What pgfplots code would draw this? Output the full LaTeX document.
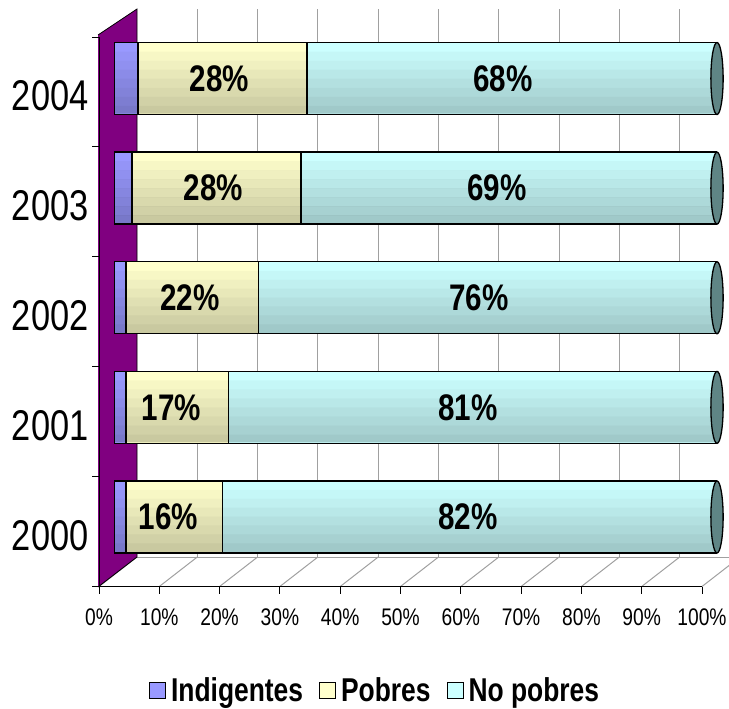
\documentclass[border=0pt]{standalone}
\usepackage{pgfplots}
\usepackage{pgfplotstable}
\pgfplotsset{compat=1.18}
\usepackage{fontspec}
\setmainfont{Liberation Sans}[FakeStretch=0.8]
\definecolor{wall}{HTML}{800080}
\definecolor{indc}{HTML}{9999FF}
\definecolor{pobc}{HTML}{FFFFCC}
\definecolor{noc}{HTML}{CCFFFF}
\definecolor{capc}{HTML}{5F8585}
\definecolor{gridc}{HTML}{A0A0A0}

\pgfplotstableread{
y ind pob nop
0 2 16 82
1 2 17 81
2 2 22 76
3 3 28 69
4 4 28 68
}\data

\begin{document}
\begin{tikzpicture}[x=1pt,y=1pt]
\path[use as bounding box] (0,0) rectangle (729,-709);
% back plane grid
\begin{axis}[at={(137pt,-557pt)}, anchor=south west, scale only axis,
  width=603pt, height=548pt, xmin=0, xmax=100, ymin=0, ymax=1,
  xtick={10,20,...,90}, xticklabels={}, ytick=\empty, xmajorgrids,
  grid style={gridc, line width=1pt}, axis line style={draw=none},
  major tick length=0pt, clip=false]
\addplot[draw=none] coordinates {(0,0)};
\end{axis}
% floor
\draw[gridc, line width=1pt] (137,-557) -- (740,-557);
\foreach \k in {0,...,10} \draw[gridc, line width=1pt] ({99+60.3*\k},-586.5) -- ({137+60.3*\k},-557);
% left wall
\fill[wall] (98,-35) -- (137,-9) -- (137,-557) -- (98,-587) -- cycle;
\draw[black, line width=0.8pt] (98,-35) -- (137,-9) -- (137,-557) -- (98,-587);
% front axis with ticks and labels
\begin{axis}[at={(99pt,-586.5pt)}, anchor=south west, scale only axis,
  width=603pt, height=549.5pt, xmin=0, xmax=100, ymin=-0.5, ymax=4.5,
  axis x line*=bottom, axis y line*=left,
  axis line style={black, line width=1pt},
  xtick={0,10,...,100},
  xticklabels={0\%,10\%,20\%,30\%,40\%,50\%,60\%,70\%,80\%,90\%,100\%},
  xticklabel style={font=\fontsize{24}{24}\selectfont, yshift=-12pt},
  ytick={-0.5,0.5,...,4.5}, yticklabels={},
  extra y ticks={0,1,2,3,4},
  extra y tick labels={2000,2001,2002,2003,2004},
  extra y tick style={tick style={draw=none}, yticklabel style={font=\fontsize{43}{43}\selectfont, yshift=-4pt, xshift=0pt}},
  tick align=outside, major tick length=7pt,
  tick style={black, line width=1pt}]
\addplot[draw=none] coordinates {(0,0)};
\end{axis}
% bars
\begin{axis}[at={(114pt,-571.8pt)}, anchor=south west, scale only axis,
  width=603pt, height=548.1pt, xmin=0, xmax=100, ymin=-0.5, ymax=4.5,
  hide axis, xbar stacked, bar width=72pt,
  legend columns=3,
  legend style={at={(0.433,-0.216)}, anchor=center, draw=none, fill=none,
    font=\bfseries\fontsize{33}{33}\selectfont,
    /tikz/every odd column/.append style={column sep=3pt},
    /tikz/every even column/.append style={column sep=14pt}},
  legend image code/.code={\draw[#1, line width=1pt] (0pt,-8pt) rectangle (16pt,8pt);}]
\addplot[draw=black, line width=1.3pt, fill=indc] table[x=ind, y=y]{\data};
\addplot[draw=black, line width=1.3pt, fill=pobc] table[x=pob, y=y]{\data};
\addplot[draw=black, line width=1.3pt, fill=noc] table[x=nop, y=y]{\data};
\legend{Indigentes, Pobres, No pobres}
\end{axis}
% shading bands across the bars (darker towards the bottom)
\begin{axis}[at={(114pt,-571.8pt)}, anchor=south west, scale only axis,
  width=603pt, height=548.1pt, xmin=0, xmax=100, ymin=-0.5, ymax=4.5,
  hide axis, xbar, bar width=9pt]
\addplot[draw=none, fill=black, fill opacity=0.03, bar shift=22.5pt] coordinates {(100,0) (100,1) (100,2) (100,3) (100,4)};
\addplot[draw=none, fill=black, fill opacity=0.06, bar shift=13.5pt] coordinates {(100,0) (100,1) (100,2) (100,3) (100,4)};
\addplot[draw=none, fill=black, fill opacity=0.09, bar shift=4.5pt] coordinates {(100,0) (100,1) (100,2) (100,3) (100,4)};
\addplot[draw=none, fill=black, fill opacity=0.12, bar shift=-4.5pt] coordinates {(100,0) (100,1) (100,2) (100,3) (100,4)};
\addplot[draw=none, fill=black, fill opacity=0.15, bar shift=-13.5pt] coordinates {(100,0) (100,1) (100,2) (100,3) (100,4)};
\addplot[draw=none, fill=black, fill opacity=0.18, bar shift=-22.5pt] coordinates {(100,0) (100,1) (100,2) (100,3) (100,4)};
\addplot[draw=none, fill=black, fill opacity=0.21, bar shift=-31pt, bar width=8pt] coordinates {(100,0) (100,1) (100,2) (100,3) (100,4)};
\end{axis}
% end caps
\begin{axis}[at={(114pt,-571.8pt)}, anchor=south west, scale only axis,
  width=603pt, height=548.1pt, xmin=0, xmax=100, ymin=-0.5, ymax=4.5,
  hide axis, clip=false]
\addplot[only marks, mark=*, mark size=36pt,
  mark options={xscale=0.17, fill=capc, draw=black, line width=1.3pt}]
  coordinates {(100,0) (100,1) (100,2) (100,3) (100,4)};
\end{axis}
% data labels
\begin{axis}[at={(114pt,-571.8pt)}, anchor=south west, scale only axis,
  width=603pt, height=548.1pt, xmin=0, xmax=100, ymin=-0.5, ymax=4.5,
  hide axis, clip=false]
\addplot[draw=none, mark=none, nodes near coords, point meta=explicit symbolic,
  every node near coord/.style={anchor=center, font=\bfseries\fontsize{37}{37}\selectfont}]
  coordinates {(9,0)[16\%] (9.5,1)[17\%] (12.6,2)[22\%] (16.5,3)[28\%] (17.5,4)[28\%]
               (58.7,0)[82\%] (58.7,1)[81\%] (60.5,2)[76\%] (63.5,3)[69\%] (64.5,4)[68\%]};
\end{axis}
\end{tikzpicture}
\end{document}
